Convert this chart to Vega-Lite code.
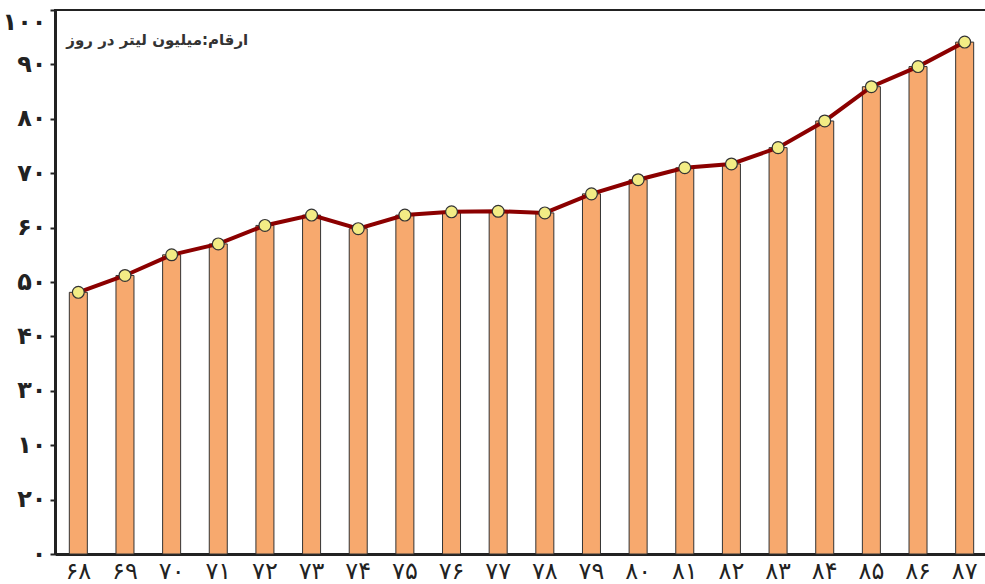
{
  "$schema": "https://vega.github.io/schema/vega-lite/v6.json",
  "autosize": {"type": "none"},
  "padding": {"left": 55, "top": 10, "right": 0, "bottom": 30},
  "width": 933,
  "height": 544,
  "background": "white",
  "config": {
    "view": {"stroke": "#222", "strokeWidth": 2},
    "font": "DejaVu Sans"
  },
  "data": {
    "values": [
      {"year": "۶۸", "value": 48.1},
      {"year": "۶۹", "value": 51.2},
      {"year": "۷۰", "value": 55.0},
      {"year": "۷۱", "value": 57.0},
      {"year": "۷۲", "value": 60.4},
      {"year": "۷۳", "value": 62.3},
      {"year": "۷۴", "value": 59.8},
      {"year": "۷۵", "value": 62.3},
      {"year": "۷۶", "value": 62.9},
      {"year": "۷۷", "value": 63.0},
      {"year": "۷۸", "value": 62.7},
      {"year": "۷۹", "value": 66.2},
      {"year": "۸۰", "value": 68.8},
      {"year": "۸۱", "value": 71.0},
      {"year": "۸۲", "value": 71.7},
      {"year": "۸۳", "value": 74.7},
      {"year": "۸۴", "value": 79.6},
      {"year": "۸۵", "value": 85.9},
      {"year": "۸۶", "value": 89.6},
      {"year": "۸۷", "value": 94.1}
    ]
  },
  "encoding": {
    "x": {
      "field": "year",
      "type": "nominal",
      "sort": null,
      "scale": {"paddingInner": 0.614, "paddingOuter": 0.307},
      "axis": {
        "title": null,
        "labelAngle": 0,
        "ticks": false,
        "labelPadding": 5,
        "labelFontSize": 24,
        "labelColor": "#222",
        "domainColor": "#222",
        "domainWidth": 3
      }
    },
    "y": {
      "field": "value",
      "type": "quantitative",
      "scale": {"domain": [0, 100], "nice": false},
      "axis": {
        "title": null,
        "values": [0, 10, 20, 30, 40, 50, 60, 70, 80, 90, 100],
        "labelExpr": "['۰','۲۰','۱۰','۳۰','۴۰','۵۰','۶۰','۷۰','۸۰','۹۰','۱۰۰'][round(datum.value/10)]",
        "labelBaseline": {"condition": {"test": "datum.value == 100", "value": "top"}, "value": "middle"},
        "grid": false,
        "tickSize": 5,
        "tickWidth": 2,
        "tickColor": "#222",
        "labelPadding": 4,
        "labelFontSize": 24,
        "labelFontWeight": "bold",
        "labelColor": "#222",
        "domainColor": "#222",
        "domainWidth": 3
      }
    }
  },
  "layer": [
    {
      "mark": {"type": "bar", "fill": "#F7A96E", "stroke": "#333", "strokeWidth": 1}
    },
    {
      "mark": {"type": "line", "color": "#8B0000", "strokeWidth": 4}
    },
    {
      "mark": {"type": "point", "filled": true, "fill": "#F3EC85", "stroke": "#333", "strokeWidth": 1.2, "size": 140, "opacity": 1}
    },
    {
      "data": {"values": [{"label": "ارقام:میلیون لیتر در روز", "year": "۶۸", "value": 94.5}]},
      "mark": {"type": "text", "align": "left", "baseline": "middle", "dx": -12, "fontSize": 15, "fontWeight": "bold", "color": "#333"},
      "encoding": {
        "text": {"field": "label"}
      }
    }
  ]
}
